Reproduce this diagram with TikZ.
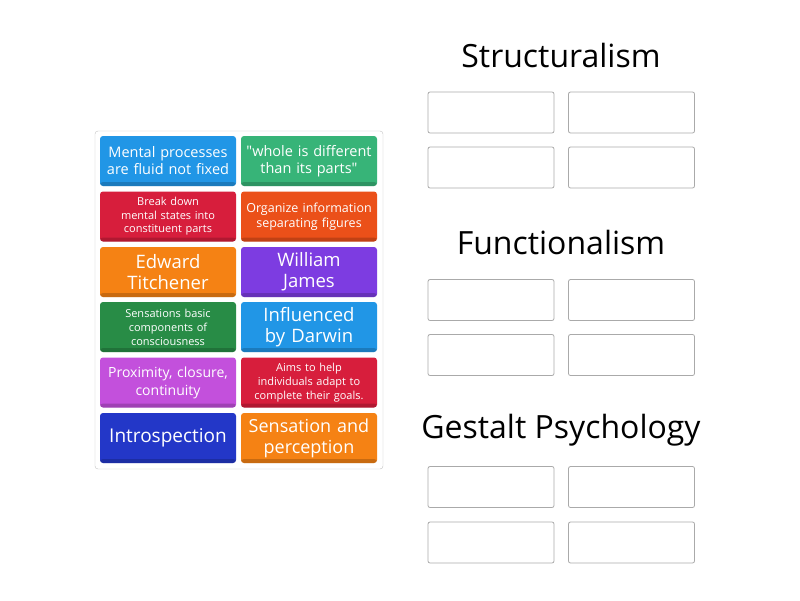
\documentclass[tikz,border=0pt]{standalone}
\usepackage{fontspec}
\setmainfont{Open Sans}
\usepackage{tikz}
\usetikzlibrary{shapes,positioning}
\definecolor{tileBlue}{RGB}{33,150,230}
\definecolor{tileTeal}{RGB}{55,180,120}
\definecolor{tileRed}{RGB}{215,30,60}
\definecolor{tileRust}{RGB}{235,80,25}
\definecolor{tileOrange}{RGB}{245,130,20}
\definecolor{tilePurple}{RGB}{125,60,225}
\definecolor{tileGreen}{RGB}{40,140,70}
\definecolor{tileMagenta}{RGB}{195,80,220}
\definecolor{tileNavy}{RGB}{35,55,200}
\definecolor{slotGray}{RGB}{170,170,170}

\begin{document}
\begin{tikzpicture}[x=1pt, y=-1pt,
    tile/.style={fill=#1, text=white, rounded corners=3pt, minimum width=136pt, minimum height=50pt,
        inner sep=1pt, text width=134pt, align=center,
        path picture={\fill[black, opacity=0.18] (path picture bounding box.south west) rectangle ([yshift=4pt]path picture bounding box.south east);}},
    slot/.style={draw=slotGray, line width=0.8pt, fill=white, rounded corners=2pt, minimum width=126pt, minimum height=41pt},
    heading/.style={font=\fontsize{32}{36}\selectfont, text=black}]
    \useasboundingbox (0,0) rectangle (800,600);

    % panel of cards
    \node[draw=slotGray!70, fill=white, rounded corners=3pt, minimum width=288pt, minimum height=338pt] (panel) at (239,300) {};

    \node[tile=tileBlue, font=\fontsize{14.5}{17}\selectfont] (fluid) at (168,161) {Mental processes are fluid not fixed};
    \node[tile=tileTeal, font=\fontsize{14.5}{17}\selectfont] (whole) at (309,161) {\textquotedbl whole is different than its parts\textquotedbl};
    \node[tile=tileRed, font=\fontsize{11}{13.5}\selectfont] (breakdown) at (168,216.5) {Break down\\mental states into\\constituent parts};
    \node[tile=tileRust, font=\fontsize{12.5}{15}\selectfont] (organize) at (309,216.5) {Organize information\\separating figures};
    \node[tile=tileOrange, font=\fontsize{18.5}{21}\selectfont] (titchener) at (168,272) {Edward\\Titchener};
    \node[tile=tilePurple, font=\fontsize{18.5}{21}\selectfont] (james) at (309,272) {William\\James};
    \node[tile=tileGreen, font=\fontsize{11}{14}\selectfont] (sensations) at (168,327) {Sensations basic\\components of\\consciousness};
    \node[tile=tileBlue, font=\fontsize{18.5}{21}\selectfont] (darwin) at (309,327) {Influenced\\by Darwin};
    \node[tile=tileMagenta, font=\fontsize{14}{18}\selectfont] (proximity) at (168,382.5) {Proximity, closure,\\continuity};
    \node[tile=tileRed, font=\fontsize{11}{14}\selectfont] (aims) at (309,382.5) {Aims to help\\individuals adapt to\\complete their goals.};
    \node[tile=tileNavy, font=\fontsize{19}{21}\selectfont] (introspection) at (168,438) {Introspection};
    \node[tile=tileOrange, font=\fontsize{18}{21}\selectfont] (perception) at (309,438) {Sensation and\\perception};

    % Structuralism
    \node[heading] (structHead) at (561,55) {Structuralism};
    \node[slot] (structA) at (491,112.5) {};
    \node[slot] (structB) at (631.5,112.5) {};
    \node[slot] (structC) at (491,167.5) {};
    \node[slot] (structD) at (631.5,167.5) {};

    % Functionalism
    \node[heading] (funcHead) at (561,242) {Functionalism};
    \node[slot] (funcA) at (491,300) {};
    \node[slot] (funcB) at (631.5,300) {};
    \node[slot] (funcC) at (491,355) {};
    \node[slot] (funcD) at (631.5,355) {};

    % Gestalt Psychology
    \node[heading] (gestHead) at (561,430) {Gestalt Psychology};
    \node[slot] (gestA) at (491,487) {};
    \node[slot] (gestB) at (631.5,487) {};
    \node[slot] (gestC) at (491,542.5) {};
    \node[slot] (gestD) at (631.5,542.5) {};
\end{tikzpicture}
\end{document}
